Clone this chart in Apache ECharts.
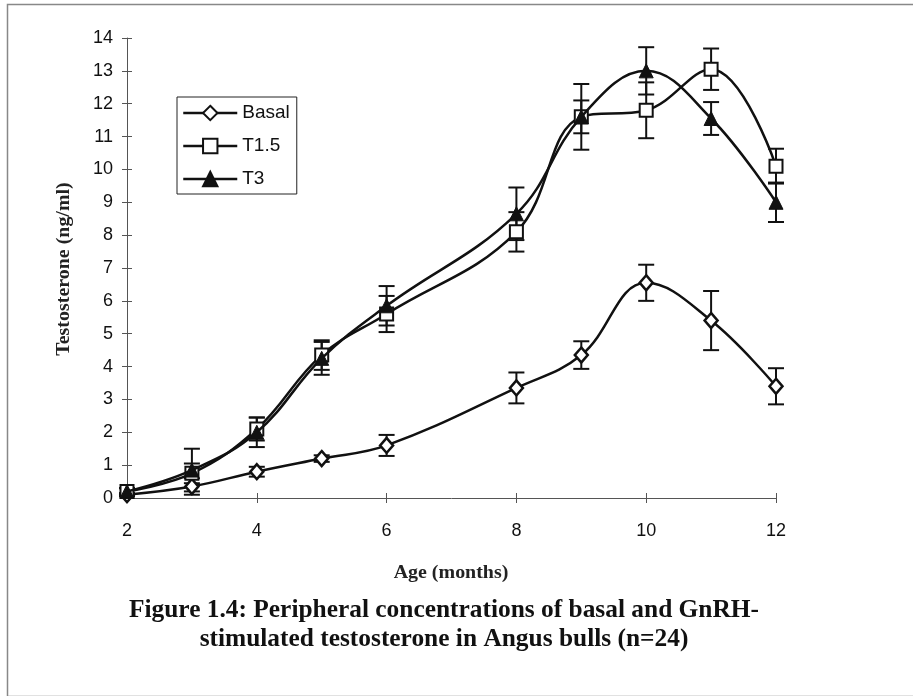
<!DOCTYPE html>
<html>
<head>
<meta charset="utf-8">
<script src="https://cdn.jsdelivr.net/npm/echarts@6/dist/echarts.min.js"></script>
<style>
  html, body { margin: 0; padding: 0; background: #ffffff; }
  #chart { width: 913px; height: 696px; }
</style>
</head>
<body>
<div id="chart"></div>
<script>
// ---- Data ----
var months = [2, 3, 4, 5, 6, 8, 9, 10, 11, 12];
var seriesNames = ['Basal', 'T1.5', 'T3'];
var basal = [0.1, 0.35, 0.8, 1.2, 1.6, 3.35, 4.35, 6.55, 5.4, 3.4];
var basalErr = [0.05, 0.25, 0.15, 0.1, 0.32, 0.47, 0.42, 0.55, 0.9, 0.55];
var t15 = [0.2, 0.75, 2.1, 4.35, 5.6, 8.1, 11.6, 11.8, 13.05, 10.1];
var t15Err = [0.1, 0.3, 0.35, 0.45, 0.55, 0.6, 1.0, 0.85, 0.63, 0.53];
var t3 = [0.2, 0.85, 2.0, 4.25, 5.85, 8.65, 11.6, 13.0, 11.55, 9.0];
var t3Err = [0.1, 0.65, 0.45, 0.5, 0.6, 0.8, 0.5, 0.72, 0.5, 0.6];
var xTicks = [2, 4, 6, 8, 10, 12];
var yTicks = [0, 1, 2, 3, 4, 5, 6, 7, 8, 9, 10, 11, 12, 13, 14];
var yTitle = 'Testosterone (ng/ml)';
var xTitle = 'Age (months)';
var captionLines = ['Figure 1.4: Peripheral concentrations of basal and GnRH-',
                    'stimulated testosterone in Angus bulls (n=24)'];

function pairs(vals) {
  return months.map(function (m, i) { return [m, vals[i]]; });
}
function errData(vals, errs) {
  return months.map(function (m, i) { return [m, vals[i] - errs[i], vals[i] + errs[i]]; });
}
function errorSeries(vals, errs) {
  return {
    type: 'custom',
    xAxisIndex: 0, yAxisIndex: 0,
    z: 1,
    silent: true,
    data: errData(vals, errs),
    renderItem: function (params, api) {
      var x = api.value(0);
      var lo = api.coord([x, api.value(1)]);
      var hi = api.coord([x, api.value(2)]);
      var hw = 8;
      var st = { stroke: '#111', lineWidth: 2 };
      return {
        type: 'group',
        children: [
          { type: 'line', shape: { x1: lo[0], y1: lo[1], x2: hi[0], y2: hi[1] }, style: st },
          { type: 'line', shape: { x1: lo[0] - hw, y1: lo[1], x2: lo[0] + hw, y2: lo[1] }, style: st },
          { type: 'line', shape: { x1: hi[0] - hw, y1: hi[1], x2: hi[0] + hw, y2: hi[1] }, style: st }
        ]
      };
    }
  };
}

var chart = echarts.init(document.getElementById('chart'));
var sansFont = '"Liberation Sans", Arial, sans-serif';
var serifFont = '"Liberation Serif", "Times New Roman", serif';
var axisColor = '#555';

var option = {
  backgroundColor: '#ffffff',
  animation: false,
  grid: { left: 127, right: 137, top: 38, bottom: 198, containLabel: false },
  xAxis: [{
    type: 'value', min: xTicks[0], max: xTicks[xTicks.length - 1], interval: 2,
    axisLine: { show: true, lineStyle: { color: axisColor, width: 1 } },
    axisTick: { show: true, inside: false, length: 5, lineStyle: { color: axisColor } },
    axisLabel: { margin: 24, fontFamily: sansFont, fontSize: 18, color: '#111' },
    splitLine: { show: false }
  }, {
    type: 'value', min: xTicks[0], max: xTicks[xTicks.length - 1], interval: 2,
    position: 'bottom',
    axisLine: { show: false },
    axisTick: { show: true, inside: true, length: 5, lineStyle: { color: axisColor } },
    axisLabel: { show: false },
    splitLine: { show: false }
  }],
  yAxis: [{
    type: 'value', min: yTicks[0], max: yTicks[yTicks.length - 1], interval: 1,
    axisLine: { show: true, lineStyle: { color: axisColor, width: 1 } },
    axisTick: { show: true, inside: false, length: 5, lineStyle: { color: axisColor } },
    axisLabel: { margin: 14, fontFamily: sansFont, fontSize: 18, color: '#111' },
    splitLine: { show: false }
  }, {
    type: 'value', min: yTicks[0], max: yTicks[yTicks.length - 1], interval: 1,
    position: 'left',
    axisLine: { show: false },
    axisTick: { show: true, inside: true, length: 5, lineStyle: { color: axisColor } },
    axisLabel: { show: false },
    splitLine: { show: false }
  }],
  legend: {
    orient: 'vertical',
    left: 177, top: 97,
    padding: [5, 7, 4, 5],
    itemGap: 11,
    itemWidth: 54, itemHeight: 18,
    borderColor: '#222', borderWidth: 1,
    backgroundColor: '#fff',
    lineStyle: { width: 2.5, color: '#111' },
    textStyle: { fontFamily: sansFont, fontSize: 19, color: '#111', lineHeight: 22 },
    data: seriesNames
  },
  series: [
    errorSeries(basal, basalErr),
    errorSeries(t15, t15Err),
    errorSeries(t3, t3Err),
    {
      name: seriesNames[0], type: 'line', data: pairs(basal), smooth: 0.4, z: 3,
      symbol: 'diamond', symbolSize: [13, 15],
      lineStyle: { color: '#111', width: 2.5 },
      itemStyle: { color: '#fff', borderColor: '#111', borderWidth: 2.5 }
    },
    {
      name: seriesNames[1], type: 'line', data: pairs(t15), smooth: 0.4, z: 4,
      symbol: 'rect', symbolSize: 13,
      lineStyle: { color: '#111', width: 2.5 },
      itemStyle: { color: '#fff', borderColor: '#111', borderWidth: 2 }
    },
    {
      name: seriesNames[2], type: 'line', data: pairs(t3), smooth: 0.4, z: 5,
      symbol: 'triangle', symbolSize: 14,
      lineStyle: { color: '#111', width: 2.5 },
      itemStyle: { color: '#111', borderColor: '#111', borderWidth: 1 }
    }
  ],
  graphic: [
    { type: 'rect', left: 5, top: 2, shape: { width: 912, height: 692 },
      style: { fill: 'none', stroke: '#888', lineWidth: 1.5 }, silent: true, z: -10 },
    { type: 'text', x: 64, y: 269, rotation: Math.PI / 2, scaleX: 1.05,
      style: { text: yTitle, fontFamily: serifFont, fontWeight: 'bold', fontSize: 19,
               fill: '#222', align: 'center', verticalAlign: 'middle' } },
    { type: 'text', x: 451, y: 573, scaleX: 1.05,
      style: { text: xTitle, fontFamily: serifFont, fontWeight: 'bold', fontSize: 19,
               fill: '#222', align: 'center', verticalAlign: 'middle' } },
    { type: 'text', x: 444, y: 610, scaleX: 1.0,
      style: { text: captionLines[0], fontFamily: serifFont, fontWeight: 'bold', fontSize: 25.4,
               fill: '#111', align: 'center', verticalAlign: 'middle' } },
    { type: 'text', x: 444, y: 639, scaleX: 1.0,
      style: { text: captionLines[1], fontFamily: serifFont, fontWeight: 'bold', fontSize: 25.4,
               fill: '#111', align: 'center', verticalAlign: 'middle' } }
  ]
};
chart.setOption(option);
</script>
</body>
</html>
